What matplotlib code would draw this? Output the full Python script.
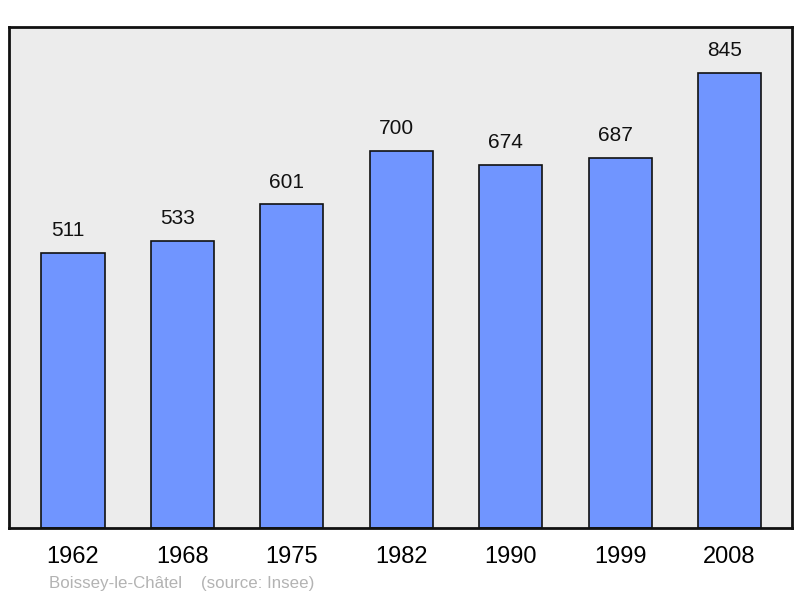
import matplotlib.pyplot as plt

plt.rcParams['font.family'] = ['Liberation Sans', 'DejaVu Sans']

years = ['1962', '1968', '1975', '1982', '1990', '1999', '2008']
population = [511, 533, 601, 700, 674, 687, 845]

fig = plt.figure(figsize=(8, 5.98), dpi=100)
ax = fig.add_axes([0.01125, 0.117, 0.97875, 0.838])
ax.set_facecolor('#ececec')

x = list(range(len(years)))
ax.bar(x, population, width=0.576, color='#7095ff', edgecolor='#111111', linewidth=1.2, zorder=2)

# value labels sit a little left of the bar centre, like the original
for xi, v in zip(x, population):
    ax.annotate(str(v), (xi, v), xytext=(-3.6, 9), textcoords='offset points',
                ha='center', va='bottom', fontsize=15, color='#111111')

ax.set_xlim(-0.585, 6.572)
ax.set_ylim(0, 930)
ax.set_yticks([])
ax.set_xticks(x)
ax.set_xticklabels(years, fontsize=17)
ax.tick_params(axis='x', length=0, pad=13)
for s in ax.spines.values():
    s.set_linewidth(2)
    s.set_color('#111111')

fig.text(0.061, 0.016, 'Boissey-le-Châtel    (source: Insee)', fontsize=12.2, color='#b3b3b3')

plt.savefig('out.png', dpi=100)
